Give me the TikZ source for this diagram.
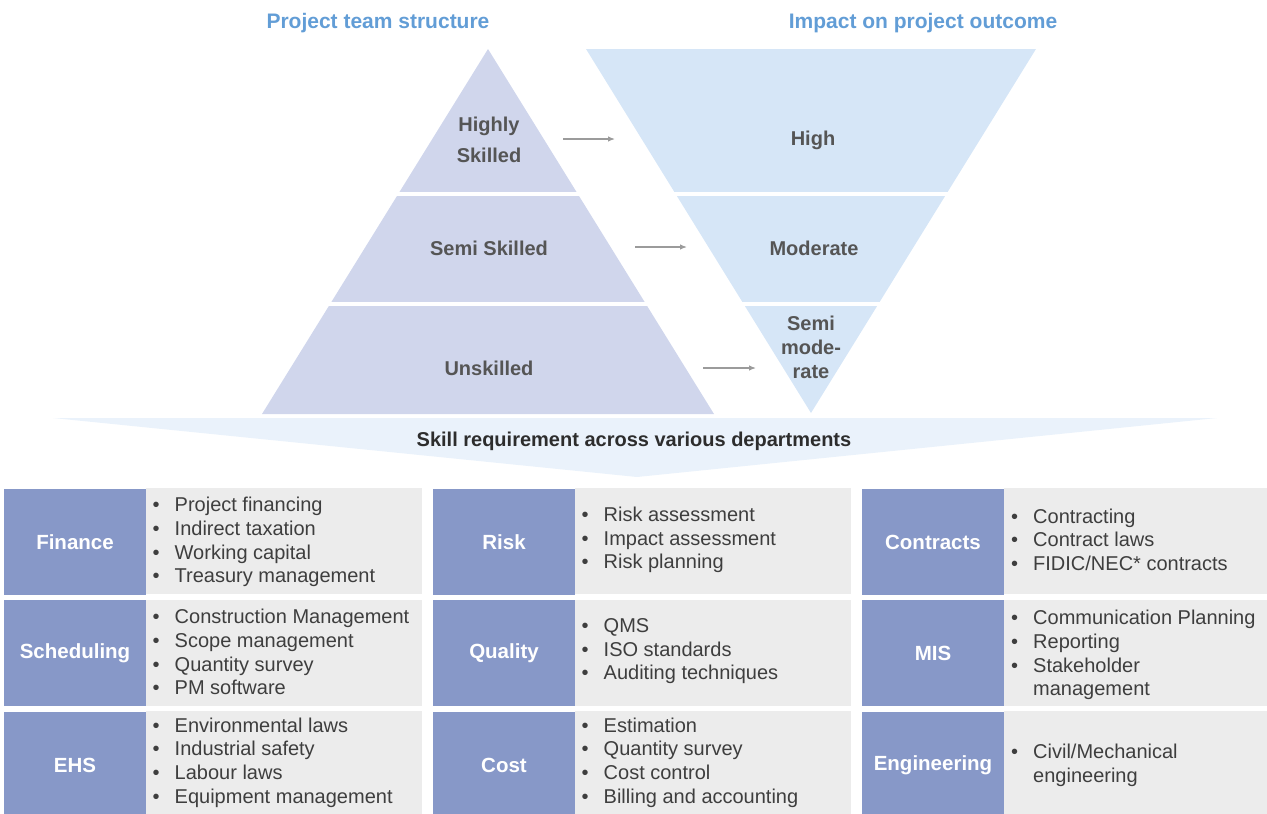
\documentclass[tikz,border=0pt]{standalone}
\usepackage{fontspec}
\setmainfont{Liberation Sans}
\usetikzlibrary{arrows.meta}

\definecolor{titleblue}{RGB}{98,157,214}
\definecolor{pyramidfill}{RGB}{208,214,236}
\definecolor{impactfill}{RGB}{214,230,247}
\definecolor{bannerfill}{RGB}{234,242,251}
\definecolor{deptblue}{RGB}{135,152,200}
\definecolor{listgray}{RGB}{236,236,236}
\definecolor{tritextc}{RGB}{85,85,85}
\definecolor{listtext}{RGB}{62,62,62}
\definecolor{bannertext}{RGB}{45,45,45}
\definecolor{arrowgray}{RGB}{155,155,155}

% bullet list laid out as a two-column table
\newcommand\deptitems[1]{\begin{tabular}{@{}l@{\hspace{15pt}}l@{}}#1\end{tabular}}

\begin{document}
\begin{tikzpicture}[x=1pt,y=-1pt,
  heading/.style={font=\fontsize{21}{25}\selectfont\bfseries, text=titleblue, inner sep=0},
  tritext/.style={font=\fontsize{20}{31}\selectfont\bfseries, text=tritextc, align=center, inner sep=0},
  tritextsm/.style={font=\fontsize{20}{24}\selectfont\bfseries, text=tritextc, align=center, inner sep=0},
  deptlabel/.style={fill=deptblue, text=white, font=\fontsize{20.5}{24}\selectfont\bfseries,
    minimum width=142pt, minimum height=106pt, inner sep=0},
  deptlist/.style={fill=listgray, minimum width=276pt, minimum height=106pt, inner sep=0},
  itemtext/.style={anchor=west, inner sep=0, text=listtext, font=\fontsize{20}{23.7}\selectfont},
  flowarrow/.style={draw=arrowgray, line width=1.2pt, -{Latex[length=7pt,width=5.5pt]}},
  bannertxt/.style={font=\fontsize{20}{24}\selectfont\bfseries, text=bannertext, inner sep=0}
]
\useasboundingbox (0,0) rectangle (1267,814);
\clip (0,0) rectangle (1267,814);

% column headings
\node[heading] (hteam) at (378,23) {Project team structure};
\node[heading] (himpact) at (923,23) {Impact on project outcome};

% team pyramid and inverted impact triangle
\fill[pyramidfill] (488,49) -- (714,414) -- (262,414) -- cycle;
\fill[impactfill] (586,49) -- (1036,49) -- (811,413) -- cycle;
% white gaps between the bands
\draw[white, line width=4pt] (250,194) -- (1060,194);
\draw[white, line width=4pt] (250,304) -- (1060,304);

% band labels
\node[tritext] (highly) at (489,140) {Highly\\Skilled};
\node[tritextsm] (semi) at (489,248) {Semi Skilled};
\node[tritextsm] (unsk) at (489,368) {Unskilled};
\node[tritextsm] (high) at (813,140) {High};
\node[tritextsm] (moder) at (814,248) {Moderate};
\node[tritextsm] (semimod) at (811,347) {Semi\\mode-\\rate};

% arrows from team level to impact level
\coordinate (a1s) at (563,139); \coordinate (a1e) at (615,139);
\coordinate (a2s) at (635,247); \coordinate (a2e) at (687,247);
\coordinate (a3s) at (703,368); \coordinate (a3e) at (756,368);
\draw[flowarrow] (a1s) -- (a1e);
\draw[flowarrow] (a2s) -- (a2e);
\draw[flowarrow] (a3s) -- (a3e);

% banner
\fill[bannerfill] (53,418) -- (1217,418) -- (637,477) -- cycle;
\node[bannertxt] (banner) at (634,441) {Skill requirement across various departments};

% department labels
\node[deptlabel] (finance) at (75,542) {Finance};
\node[deptlabel] (risk) at (504,542) {Risk};
\node[deptlabel] (contracts) at (933,542) {Contracts};
\node[deptlabel] (sched) at (75,653) {Scheduling};
\node[deptlabel] (quality) at (504,653) {Quality};
\node[deptlabel] (mis) at (933,653) {MIS};
\node[deptlabel] (ehs) at (75,765) {EHS};
\node[deptlabel] (cost) at (504,765) {Cost};
\node[deptlabel] (eng) at (933,765) {Engineering};

% list backgrounds
\node[deptlist] (lfinance) at (284,541) {};
\node[deptlist] (lrisk) at (713,541) {};
\node[deptlist] (lcontracts) at (1142,541) {};
\node[deptlist] (lsched) at (284,653) {};
\node[deptlist] (lquality) at (713,653) {};
\node[deptlist] (lmis) at (1142,653) {};
\node[deptlist] (lehs) at (284,764) {};
\node[deptlist] (lcost) at (713,764) {};
\node[deptlist] (leng) at (1142,764) {};

% list contents
\node[itemtext] (tfinance) at (152.5,542.5) {\deptitems{%
  \textbullet & Project financing\\
  \textbullet & Indirect taxation\\
  \textbullet & Working capital\\
  \textbullet & Treasury management}};
\node[itemtext] (trisk) at (581.5,540.5) {\deptitems{%
  \textbullet & Risk assessment\\
  \textbullet & Impact assessment\\
  \textbullet & Risk planning}};
\node[itemtext] (tcontracts) at (1011,542) {\deptitems{%
  \textbullet & Contracting\\
  \textbullet & Contract laws\\
  \textbullet & FIDIC/NEC* contracts}};
\node[itemtext] (tsched) at (152.5,654.5) {\deptitems{%
  \textbullet & Construction Management\\
  \textbullet & Scope management\\
  \textbullet & Quantity survey\\
  \textbullet & PM software}};
\node[itemtext] (tquality) at (581.5,651.5) {\deptitems{%
  \textbullet & QMS\\
  \textbullet & ISO standards\\
  \textbullet & Auditing techniques}};
\node[itemtext] (tmis) at (1011,655.5) {\deptitems{%
  \textbullet & Communication Planning\\
  \textbullet & Reporting\\
  \textbullet & Stakeholder\\
              & management}};
\node[itemtext] (tehs) at (152.5,763) {\deptitems{%
  \textbullet & Environmental laws\\
  \textbullet & Industrial safety\\
  \textbullet & Labour laws\\
  \textbullet & Equipment management}};
\node[itemtext] (tcost) at (581.5,763) {\deptitems{%
  \textbullet & Estimation\\
  \textbullet & Quantity survey\\
  \textbullet & Cost control\\
  \textbullet & Billing and accounting}};
\node[itemtext] (teng) at (1011,765.5) {\deptitems{%
  \textbullet & Civil/Mechanical\\
              & engineering}};
\end{tikzpicture}
\end{document}
